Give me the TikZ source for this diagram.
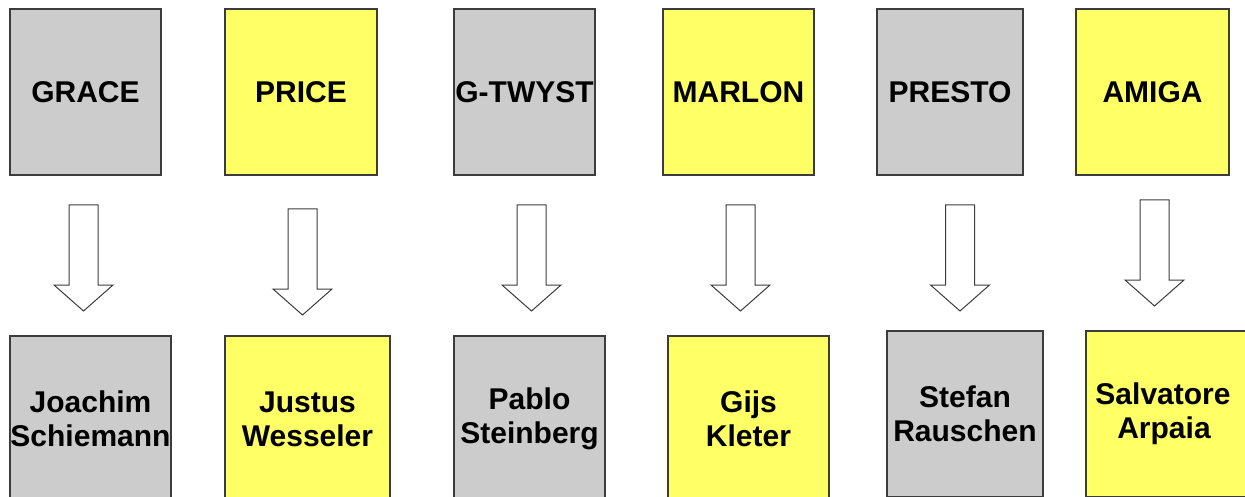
\documentclass[tikz,border=0pt]{standalone}
\usepackage{fontspec}
\setmainfont{Liberation Sans}
\definecolor{boxgrey}{HTML}{CCCCCC}
\definecolor{boxyellow}{HTML}{FFFF66}
\definecolor{boxline}{HTML}{3C3C3C}
\begin{document}
\begin{tikzpicture}[x=1pt,y=-1pt,
  box/.style={draw=boxline, line width=1.2pt, inner sep=0pt, align=center,
    font=\bfseries\fontsize{30}{34}\selectfont, text=black, minimum height=166pt},
  greybox/.style={box, fill=boxgrey},
  yelbox/.style={box, fill=boxyellow},
  arrowline/.style={draw=boxline, line width=1pt, fill=white, line join=miter},
  downarr/.pic={\path[arrowline] (-14.5,0) -- (14.5,0) -- (14.5,80) -- (29.5,80)
      -- (0,106) -- (-29.5,80) -- (-14.5,80) -- cycle;}]
\useasboundingbox (0,0) rectangle (1245,497);
\clip (0,0) rectangle (1245,497);
% top row
\node[greybox, minimum width=151pt] (t1) at (85.5,92) {GRACE};
\node[yelbox,  minimum width=152pt] (t2) at (301,92) {PRICE};
\node[greybox, minimum width=141pt] (t3) at (524.5,92) {G-TWYST};
\node[yelbox,  minimum width=151pt] (t4) at (738.5,92) {MARLON};
\node[greybox, minimum width=146pt] (t5) at (950,92) {PRESTO};
\node[yelbox,  minimum width=153pt] (t6) at (1152.5,92) {AMIGA};
% bottom row
\node[greybox, minimum width=161pt] (b1) at (90.5,419) {Joachim\\Schiemann};
\node[yelbox,  minimum width=165pt] (b2) at (307.5,419) {Justus\\Wesseler};
\node[greybox, minimum width=151pt] (b3) at (529.5,419) {Pablo\\Steinberg};
\node[yelbox,  minimum width=161pt] (b4) at (748.5,419) {Gijs\\Kleter};
\node[greybox, minimum width=156pt] (b5) at (965,414) {Stefan\\Rauschen};
\node[yelbox,  minimum width=164pt] (b6) at (1168,414) {Salvatore\hspace*{10pt}\\Arpaia\hspace*{8pt}};
% block arrows
\pic at (83.5,205) {downarr};
\pic at (302.5,209) {downarr};
\pic at (531.5,205) {downarr};
\pic at (740.5,205) {downarr};
\pic at (960,205) {downarr};
\pic at (1154.5,200) {downarr};
\end{tikzpicture}
\end{document}
